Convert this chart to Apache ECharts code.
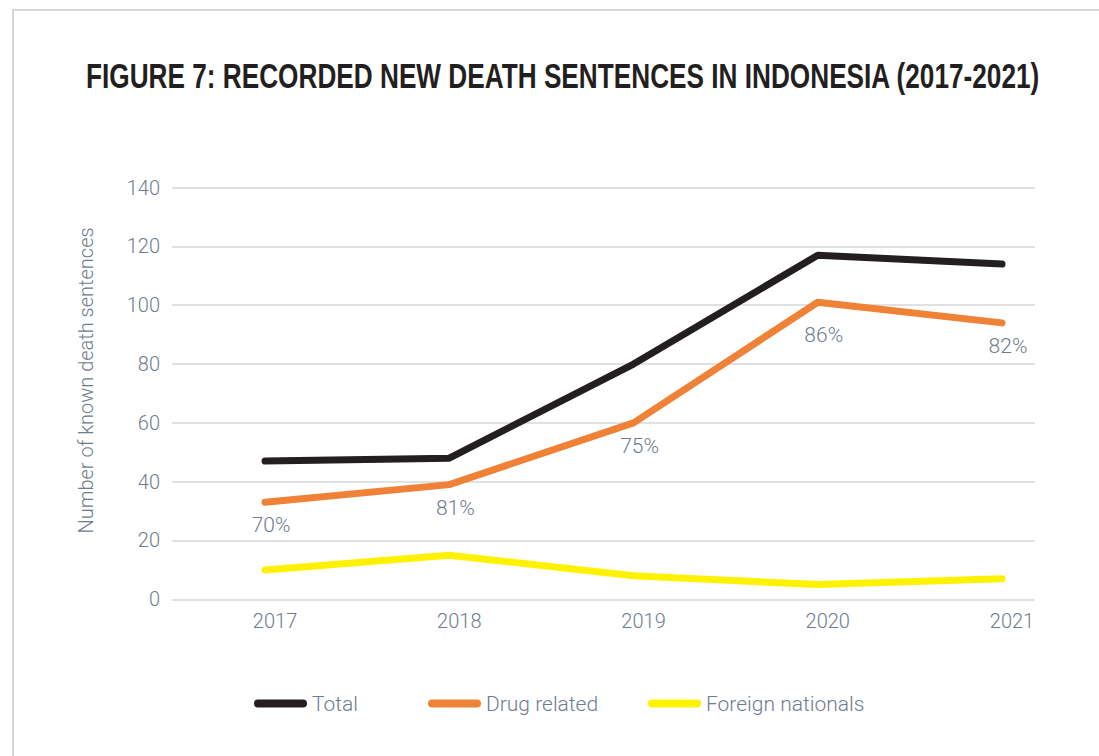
<!DOCTYPE html>
<html>
<head>
<meta charset="utf-8">
<script src="https://cdn.jsdelivr.net/npm/echarts@6.0.0/dist/echarts.min.js"></script>
<style>
  html, body { margin: 0; padding: 0; background: #fff; overflow: hidden; }
  #wrap { position: relative; width: 1099px; height: 756px; overflow: hidden; }
  #frame { position: absolute; left: 12px; top: 9px; width: 1200px; height: 900px;
           border-left: 2px solid #d3d6d6; border-top: 2px solid #d3d6d6; }
  #main { position: absolute; left: 0; top: 0; width: 1099px; height: 756px; }
</style>
</head>
<body>
<div id="wrap">
  <div id="frame"></div>
  <div id="main"></div>
</div>
<script>
// data
var years = [2017, 2018, 2019, 2020, 2021];
var totalSentences = [47, 48, 80, 117, 114];
var drugRelated = [33, 39, 60, 101, 94];
var foreignNationals = [10, 15, 8, 5, 7];
var drugShare = ['70%', '81%', '75%', '86%', '82%'];
var seriesNames = ['Total', 'Drug related', 'Foreign nationals'];
var titleText = 'FIGURE 7: RECORDED NEW DEATH SENTENCES IN INDONESIA (2017-2021)';

var greyText = '#707b8c';
var lightFont = 'Roboto';

function pairs(vals) {
  return vals.map(function (v, i) { return [years[i], v]; });
}

function lineSeries(name, vals, color) {
  return {
    name: name,
    type: 'line',
    data: pairs(vals),
    symbol: 'circle',
    symbolSize: 1,
    showSymbol: true,
    itemStyle: { color: color },
    lineStyle: { color: color, width: 7, cap: 'round', join: 'round' },
    emphasis: { disabled: true },
    z: 3
  };
}

// the original title is set in a tall condensed face; squeeze a bold sans to the same width
var titleFont = 'bold 36px "Liberation Sans", Arial, sans-serif';
var ctx = document.createElement('canvas').getContext('2d');
ctx.font = titleFont;
var titleScale = 955 / ctx.measureText(titleText).width;

var chart = echarts.init(document.getElementById('main'), null, { renderer: 'svg' });

var drugSeries = lineSeries(seriesNames[1], drugRelated, '#f08238');
drugSeries.label = {
  show: true,
  position: 'bottom',
  distance: 12,
  offset: [6, 0],
  color: greyText,
  fontFamily: lightFont,
  fontWeight: 300,
  fontSize: 21,
  formatter: function (p) { return drugShare[p.dataIndex]; }
};
// the 2020 share sits a bit lower in the original
drugSeries.data[3] = { value: drugSeries.data[3], label: { offset: [6, 10] } };

var pill = 'path://M4,0 H49 A4,4 0 0 1 49,8 H4 A4,4 0 0 1 4,0 Z';
function legendAt(name, left) {
  return {
    data: [name],
    left: left,
    top: 693,
    icon: pill,
    itemWidth: 53,
    itemHeight: 8,
    itemGap: 0,
    padding: 0,
    selectedMode: false,
    textStyle: { color: greyText, fontFamily: lightFont, fontWeight: 300, fontSize: 21 }
  };
}

var option = {
  animation: false,
  backgroundColor: 'transparent',
  graphic: [{
    type: 'text',
    x: 86,
    y: 58,
    scaleX: titleScale,
    silent: true,
    style: {
      text: titleText,
      font: titleFont,
      fill: '#231f20',
      align: 'left',
      verticalAlign: 'top'
    }
  }],
  legend: [
    legendAt(seriesNames[0], 254),
    legendAt(seriesNames[1], 428),
    legendAt(seriesNames[2], 648)
  ],
  grid: {
    left: 172,
    right: 64,
    top: 187.6,
    bottom: 156.7,
    containLabel: false,
    outerBoundsMode: 'none'
  },
  xAxis: {
    type: 'value',
    min: 2016.495,
    max: 2021.179,
    axisLine: { show: false },
    axisTick: { show: false },
    splitLine: { show: false },
    axisLabel: {
      customValues: years,
      margin: 12,
      color: greyText,
      fontFamily: lightFont,
      fontWeight: 300,
      fontSize: 20,
      padding: [0, 0, 0, 20],
      formatter: function (v) { return String(v); }
    }
  },
  yAxis: {
    type: 'value',
    min: 0,
    max: 140,
    interval: 20,
    name: 'Number of known death sentences',
    nameLocation: 'middle',
    nameRotate: 90,
    nameGap: 76,
    nameTextStyle: {
      color: greyText,
      fontFamily: lightFont,
      fontWeight: 300,
      fontSize: 20,
      padding: [0, 0, 0, 26]
    },
    axisLine: { show: false },
    axisTick: { show: false },
    splitLine: { lineStyle: { color: '#d6d7d8', width: 1.5 } },
    axisLabel: {
      margin: 12,
      color: greyText,
      fontFamily: lightFont,
      fontWeight: 300,
      fontSize: 20
    }
  },
  series: [
    lineSeries(seriesNames[0], totalSentences, '#231f20'),
    drugSeries,
    lineSeries(seriesNames[2], foreignNationals, '#fff200')
  ]
};

chart.setOption(option);
</script>
</body>
</html>
